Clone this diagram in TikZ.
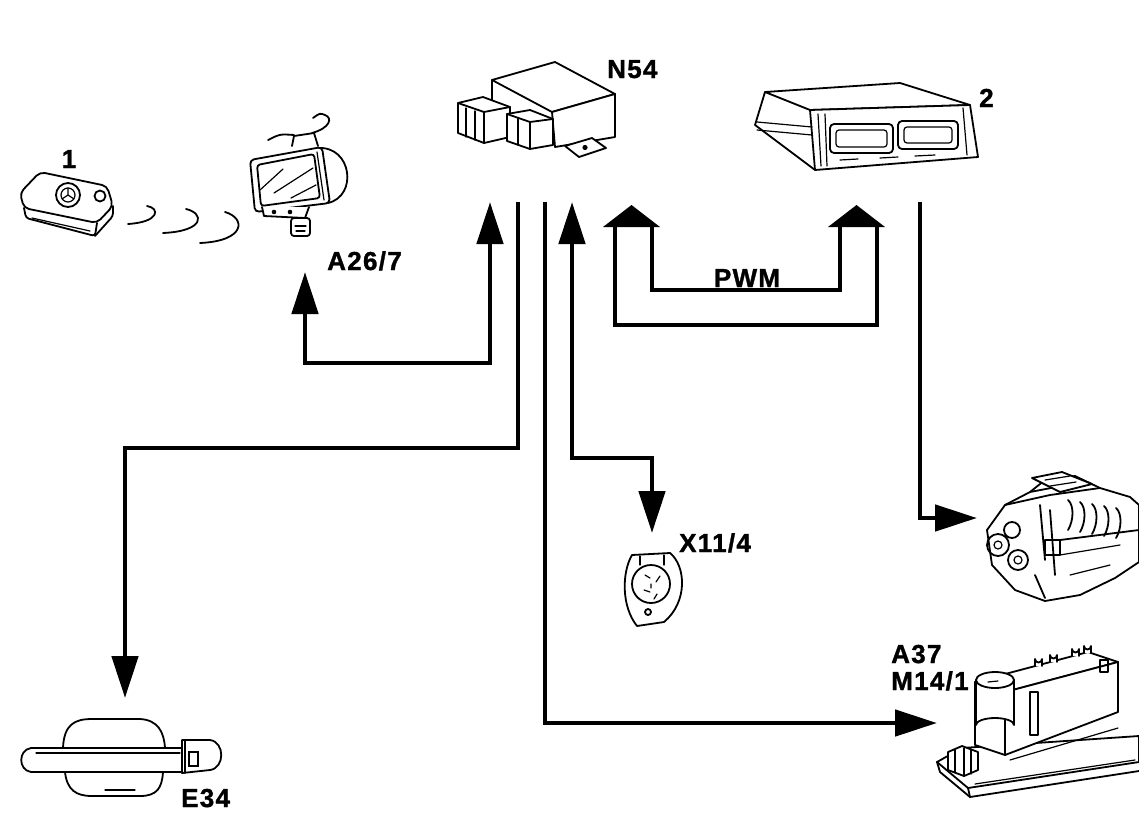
\documentclass[tikz,border=0pt]{standalone}
\usepackage{fontspec}
\setmainfont{Liberation Sans}
\usetikzlibrary{arrows.meta}
\begin{document}
\begin{tikzpicture}[x=1pt,y=-1pt,
  conn/.style={line width=4.8pt},
  tipend/.style={-{Triangle[length=42pt,width=26pt]}},
  tipboth/.style={{Triangle[length=42pt,width=26pt]}-{Triangle[length=42pt,width=26pt]}},
  lbl/.style={font=\fontsize{26}{26}\selectfont\bfseries\addfontfeature{LetterSpace=5,FakeBold=1.2}, inner sep=0pt},
  part/.style={line width=1.8pt, line join=round, line cap=round},
  fine/.style={line width=1.2pt, line cap=round},
]
\fill[white] (0,0) rectangle (1139,825);
\useasboundingbox (0,0) rectangle (1139,825);

% ---------- named pins ----------
\coordinate (a26) at (305,272);
\coordinate (n54a) at (490,202);
\coordinate (n54b) at (518,202);
\coordinate (n54c) at (545,202);
\coordinate (n54d) at (572,202);
\coordinate (e34) at (125,698);
\coordinate (x11) at (652,533);
\coordinate (a37) at (937,723);
\coordinate (ecu) at (920,202);
\coordinate (eng) at (977,518);
\coordinate (pwmL) at (631.5,205);
\coordinate (pwmR) at (856.5,205);

% ---------- key fob (1) ----------
\draw[part,fill=white,rounded corners=5pt] (20,193) -- (40,172) -- (107,186) -- (113,206) -- (97,223) -- (24,208) -- cycle;
\draw[part,rounded corners=3pt] (24,208) -- (26,218) -- (95,236) -- (97,223);
\draw[part,rounded corners=3pt] (95,236) -- (113,216) -- (113,206);
\draw[fine] (32,218) -- (90,231);
\draw[part] (68,195) circle (12);
\draw[fine] (68,195) circle (7);
\draw[fine] (68,195) -- (68,188) (68,195) -- (62,199) (68,195) -- (74,199);
\draw[part] (100,196) circle (5.5);

% radio waves
\draw[part] (147,206) .. controls (160,208) and (160,222) .. (128,224);
\draw[part] (186,209) .. controls (204,213) and (206,231) .. (163,233);
\draw[part] (225,212) .. controls (246,218) and (246,241) .. (200,243);

% ---------- mirror A26/7 ----------
\draw[part] (318,148) .. controls (352,146) and (358,196) .. (328,203);
\draw[part,fill=white,rounded corners=4pt] (250,160) -- (322,147) -- (330,203) -- (255,212) -- cycle;
\draw[part,rounded corners=3pt] (257,165) -- (314,154) -- (320,198) -- (261,206) -- cycle;
\draw[fine] (317,152) -- (324,200);
\draw[fine] (260,190) -- (283,169) (274,193) -- (313,168) (291,198) -- (316,185);
\draw[part,fill=white] (262,207) -- (264,216) -- (305,218) -- (309,207);
\fill (274,212) circle (2.3) (290,212) circle (2.3);
\draw[part,fill=white,rounded corners=3pt] (291,218) rectangle (310,236);
\draw[fine] (295,226) -- (306,226) (296,231) -- (305,231);
\draw[part] (292,146) -- (294,136) -- (314,133) -- (318,146);
\draw[part] (268,140) .. controls (280,134) .. (294,135);
\draw[part] (312,133) .. controls (330,128) and (333,118) .. (325,115) .. controls (320,113) .. (313,118);

% ---------- N54 relay ----------
\draw[part,fill=white] (492,80) -- (555,62) -- (615,94) -- (552,112) -- cycle;
\draw[part,fill=white] (552,112) -- (615,94) -- (615,137) -- (555,147) -- cycle;
\draw[part] (492,80) -- (492,102);
\draw[part,fill=white] (458,103) -- (483,97) -- (510,107) -- (510,137) -- (484,143) -- (458,133) -- cycle;
\draw[part] (484,143) -- (484,112) -- (458,103) (484,112) -- (510,107);
\draw[fine] (466,108) -- (466,137) (475,111) -- (475,140);
\draw[part,fill=white] (507,114) -- (530,110) -- (553,119) -- (553,145) -- (530,149) -- (507,141) -- cycle;
\draw[part] (530,149) -- (530,122) -- (507,114) (530,122) -- (553,119);
\draw[fine] (518,118) -- (518,145);
\draw[part,fill=white] (565,146) -- (592,138) -- (606,148) -- (579,157) -- cycle;
\fill (585,147.5) circle (2.6);

% ---------- ECU 2 ----------
\draw[part,fill=white] (765,92) -- (900,83) -- (970,105) -- (810,110) -- cycle;
\draw[part,fill=white] (810,110) -- (970,105) -- (978,157) -- (815,170) -- cycle;
\draw[part] (765,92) -- (755,125) -- (815,170);
\draw[fine] (757,122) -- (812,127) (757,130) -- (812,135);
\draw[fine] (818,114) -- (821,166) (825,114) -- (827,166);
\draw[part,rounded corners=4pt] (830,124) rectangle (893,153);
\draw[fine,rounded corners=3pt] (836,130) rectangle (887,147);
\draw[part,rounded corners=4pt] (898,121) rectangle (958,149);
\draw[fine,rounded corners=3pt] (904,127) rectangle (952,143);
\draw[fine] (963,108) -- (967,155);
\draw[fine] (840,160) -- (858,159) (880,158) -- (898,157) (915,156) -- (935,155);

% ---------- X11/4 ----------
\draw[part,fill=white] (632,555) -- (670,553) .. controls (686,566) and (688,602) .. (664,622) -- (637,626) .. controls (621,606) and (622,572) .. (632,555) -- cycle;
\draw[part] (651,584) circle (19);
\draw[fine] (645,575) -- (650,578) (656,582) -- (660,576) (644,590) -- (650,592) (657,594) -- (654,599) (651,584) -- (651,588);
\draw[part] (648,612) circle (3);
\draw[fine] (640,556) -- (640,565) (664,555) -- (664,565);

% ---------- engine ----------
\draw[part,fill=white] (987,530) -- (1005,505) -- (1030,492) -- (1045,480) -- (1075,476) -- (1100,488) -- (1130,497) -- (1139,505) -- (1139,562) -- (1115,578) -- (1080,595) -- (1045,601) -- (1015,590) -- (992,565) -- cycle;
\draw[part] (1005,505) -- (1050,495) -- (1100,488);
\draw[part] (1030,492) -- (1072,484);
\draw[part,fill=white] (1032,478) -- (1062,472) -- (1092,484) -- (1060,492) -- cycle;
\draw[fine] (1045,480) -- (1070,476) (1050,486) -- (1076,482);
\draw[part] (998,545) circle (11) (1018,560) circle (10) (1012,530) circle (8);
\draw[fine] (998,545) circle (4) (1018,560) circle (4);
\foreach \i in {0,1,2,3,4} {
  \draw[part] ({1068+12*\i},{500+2*\i}) .. controls ({1074+12*\i},{505+2*\i}) and ({1074+12*\i},{520+2*\i}) .. ({1068+12*\i},{530+2*\i});
}
\draw[part] (1040,505) -- (1045,560) (1050,510) -- (1055,575);
\draw[part] (1035,575) -- (1045,598) (1060,540) -- (1139,530);
\draw[fine] (1060,555) -- (1120,545) (1070,575) -- (1110,565);
\draw[part] (1045,540) rectangle (1060,555);

% ---------- A37 / M14/1 ----------
\draw[part,fill=white] (937,762) -- (962,748) -- (1139,736) -- (1139,762) -- (968,788) -- cycle;
\draw[part] (937,762) -- (940,772) -- (970,797) -- (1139,771);
\draw[part] (968,788) -- (970,797);
\draw[fine] (975,784) -- (1135,760);
\draw[part,fill=white] (975,682) -- (1088,652) -- (1118,662) -- (1005,692) -- cycle;
\draw[part,fill=white] (1005,692) -- (1118,662) -- (1118,712) -- (1005,755) -- cycle;
\draw[part,fill=white] (975,682) -- (1005,692) -- (1005,755) -- (975,745) -- cycle;
\draw[part,fill=white] (976,680) -- (976,725) arc[start angle=180,end angle=360,x radius=19,y radius=7] -- (1014,680);
\draw[part,fill=white] (995,680) ellipse[x radius=19,y radius=8];
\draw[fine] (988,682) -- (998,681);
\draw[part] (1030,692) rectangle (1038,735);
\foreach \px/\py in {1035/666,1050/662,1072/656,1084/653} {
  \draw[part,fill=white] (\px,\py) -- (\px,{\py-7}) arc[start angle=180,end angle=0,radius=3.5] -- ({\px+7},\py);
}
\draw[part] (1100,660) rectangle (1108,672);
\draw[part,fill=white] (948,752) -- (962,746) -- (978,752) -- (978,770) -- (964,776) -- (948,770) -- cycle;
\draw[fine] (955,750) -- (955,772) (964,748) -- (964,776) (971,750) -- (971,774);
\draw[fine] (1010,760) -- (1118,728);

% ---------- E34 door handle ----------
\draw[part] (63,748) .. controls (64,724) and (75,719) .. (92,719) -- (140,719) .. controls (158,720) and (164,732) .. (165,748);
\draw[part] (65,772) .. controls (67,790) and (76,796) .. (92,796) -- (140,796) .. controls (157,796) and (162,788) .. (163,772);
\draw[fine] (105,790) -- (135,790);
\draw[part,fill=white] (185,748) -- (31,748) .. controls (18,750) and (18,770) .. (31,772) -- (185,772);
\draw[fine] (36,753) -- (180,753);
\draw[part,fill=white] (182,740) -- (210,740) .. controls (225,742) and (225,768) .. (210,770) -- (182,773) -- cycle;
\draw[part] (185,740) -- (185,773);
\draw[fine] (189,752) rectangle (198,766);

% ---------- connectors ----------
\draw[conn,tipboth] (a26) -- ++(0,91) -| (n54a);
\draw[conn,tipend] (n54b) -- ++(0,246) -| (e34);
\draw[conn,tipend] (n54c) |- (a37);
\draw[conn,tipboth] (n54d) -- ++(0,256) -| (x11);
\draw[conn,tipend] (ecu) |- (eng);

% PWM double channel
\fill (603,227) -- (660,227) -- (pwmL) -- cycle;
\fill (828,227) -- (885,227) -- (pwmR) -- cycle;
\draw[conn] (615,227) |- (877,325) -- (877,227);
\draw[conn] (652,227) |- (840,290) -- (840,227);

% ---------- labels ----------
\node[lbl,anchor=base] (l1) at (69,168) {1};
\node[lbl,anchor=base west] (la26) at (327,270) {A26/7};
\node[lbl,anchor=base west] (ln54) at (607,78) {N54};
\node[lbl,anchor=base west] (l2) at (979,107) {2};
\node[lbl,anchor=base] (lpwm) at (747,287) {PWM};
\node[lbl,anchor=base west] (lx11) at (679,552) {X11/4};
\node[lbl,anchor=base west] (la37) at (891,663) {A37};
\node[lbl,anchor=base west] (lm14) at (891,690) {M14/1};
\node[lbl,anchor=base west] (le34) at (181,807) {E34};
\end{tikzpicture}
\end{document}
